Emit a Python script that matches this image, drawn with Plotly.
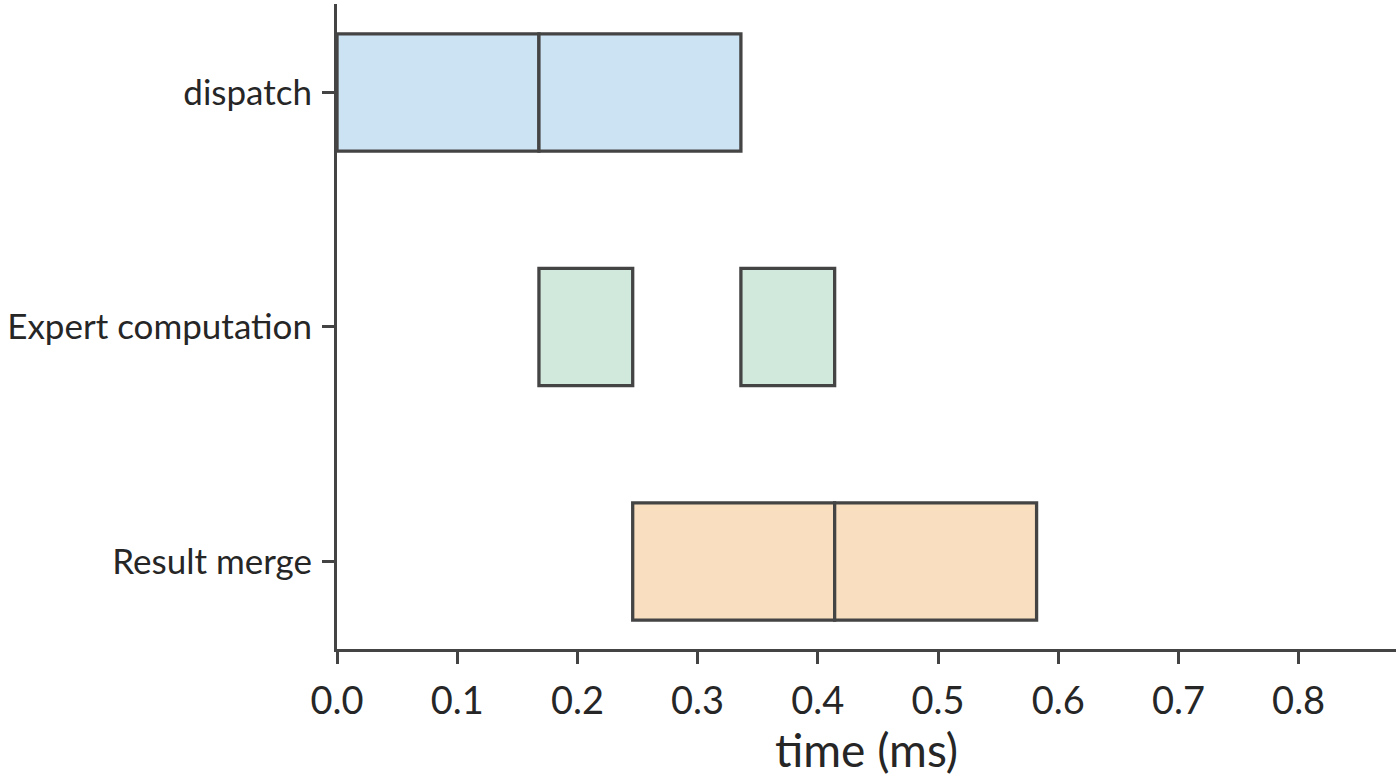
import plotly.graph_objects as go

# --- data ---
TASKS = ["dispatch", "Expert computation", "Result merge"]
STARTS = {
    "dispatch": [0.0, 0.168],
    "Expert computation": [0.168, 0.336],
    "Result merge": [0.246, 0.414],
}
DURATIONS = {
    "dispatch": [0.168, 0.168],
    "Expert computation": [0.078, 0.078],
    "Result merge": [0.168, 0.168],
}
COLORS = {"dispatch": "#cce3f3", "Expert computation": "#d1e8dc", "Result merge": "#f9dfc0"}
X_TICKS = [0.0, 0.1, 0.2, 0.3, 0.4, 0.5, 0.6, 0.7, 0.8]

FONT = "Lato"
EDGE = "#444444"

fig = go.Figure()
for task in TASKS:
    fig.add_trace(go.Bar(
        y=[task] * len(STARTS[task]), x=DURATIONS[task], base=STARTS[task],
        orientation="h", width=0.5,
        marker=dict(color=COLORS[task], line=dict(color=EDGE, width=3.3)),
        showlegend=False, hoverinfo="skip",
    ))

fig.update_layout(
    width=1400, height=777,
    margin=dict(l=337, r=4, t=4, b=128),
    plot_bgcolor="white", paper_bgcolor="white",
    font=dict(family=FONT, size=35, color="#262626"),
    barmode="overlay",
)
fig.update_xaxes(
    automargin=False,
    range=[0, 0.881], tickvals=X_TICKS, ticktext=[f"{v:.1f}" for v in X_TICKS],
    tickfont=dict(size=38),
    showgrid=False, zeroline=False,
    showline=True, linecolor=EDGE, linewidth=3,
    ticks="outside", ticklen=12, tickwidth=3, tickcolor=EDGE,
    ticklabelstandoff=4,
    title=dict(text="time (ms)", font=dict(size=46), standoff=16),
)
fig.update_yaxes(
    automargin=False,
    categoryorder="array", categoryarray=TASKS,
    range=[2.373, -0.377],
    showgrid=False, zeroline=False,
    showline=True, linecolor=EDGE, linewidth=3,
    ticks="outside", ticklen=12, tickwidth=3, tickcolor=EDGE,
    ticklabelstandoff=3,
)

# page body has a default 8px margin; drop it so the figure sits at the window corner
fig.write_html("out.html", config={"displayModeBar": False},
               post_script="document.body.style.margin='0';")
